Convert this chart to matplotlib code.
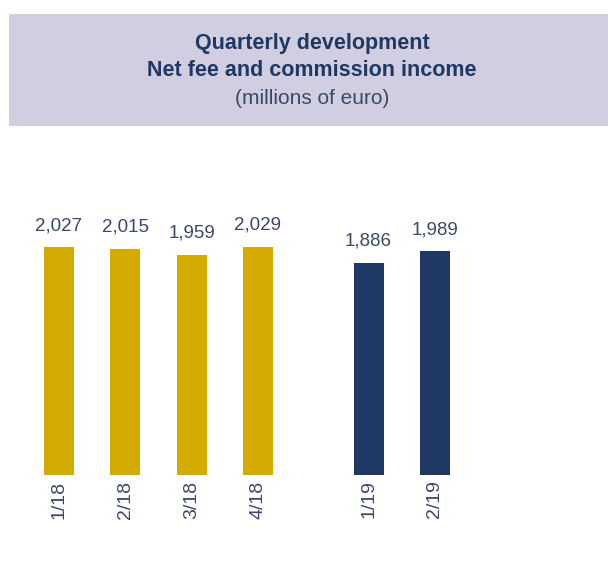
import matplotlib
matplotlib.use("Agg")
import matplotlib.pyplot as plt
from matplotlib.patches import Rectangle

quarters = ["1/18", "2/18", "3/18", "4/18", "1/19", "2/19"]
values = [2027, 2015, 1959, 2029, 1886, 1989]
years = ["2018", "2018", "2018", "2018", "2019", "2019"]

year_colors = {"2018": "#D4AB00", "2019": "#1F3864"}
text_color = "#3A4868"
title_color = "#1F3864"

W, H = 608, 570
fig = plt.figure(figsize=(W / 100, H / 100), dpi=100)

# header box
fig.patches.append(Rectangle((9 / W, 1 - 126 / H), 1 - 9 / W, 112 / H,
                             transform=fig.transFigure, facecolor="#D0CEE0",
                             edgecolor="none", zorder=0))
cx = 312 / W
fig.text(cx, 1 - 44 / H, "Quarterly development", ha="center", va="center",
         fontsize=15.5, fontweight="bold", color=title_color, family="Liberation Sans")
fig.text(cx, 1 - 71 / H, "Net fee and commission income", ha="center", va="center",
         fontsize=15.5, fontweight="bold", color=title_color, family="Liberation Sans")
fig.text(cx, 1 - 99 / H, "(millions of euro)", ha="center", va="center",
         fontsize=15, color=text_color, family="Liberation Sans")

# positions: group gap between years
positions = []
p = 0.0
for i, y in enumerate(years):
    if i > 0:
        p += 1.0 if years[i] == years[i - 1] else 1.67
    positions.append(p)

px_per_unit = 66.3
left_px = 59
ax = fig.add_axes([0, 1 - 475 / H, 1, (475 - 150) / H])
ax.set_xlim(-left_px / px_per_unit, (W - left_px) / px_per_unit)
ax.set_ylim(0, 325 * 2029 / 228)
colors = [year_colors[y] for y in years]
bars = ax.bar(positions, values, width=0.45, color=colors)
for x, v in zip(positions, values):
    ax.annotate(f"{v:,}", (x, v), xytext=(0, 9.5), textcoords="offset points",
                ha="center", va="bottom", fontsize=13.5, color=text_color,
                family="Liberation Sans")
ax.set_xticks(positions)
ax.set_xticklabels(quarters, rotation=90, fontsize=14, color=text_color,
                   family="Liberation Sans")
ax.tick_params(axis="x", length=0, pad=4)
ax.set_yticks([])
for s in ax.spines.values():
    s.set_visible(False)
ax.patch.set_alpha(0)

fig.savefig("out.png", dpi=100)
